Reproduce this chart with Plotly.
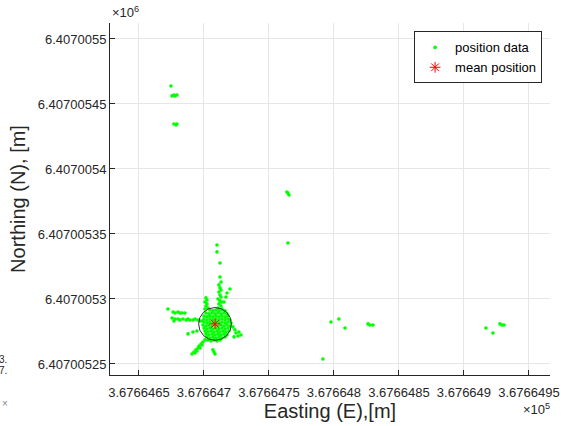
import plotly.graph_objects as go

# ---- data (metres) ----
east_out = [367664.6746, 367664.6754, 367664.6769, 367664.6777, 367664.6792, 367664.6769, 367664.6785, 367664.6792,
            367664.7638, 367664.7646, 367664.7654, 367664.7646,
            367664.7915, 367664.7977, 367664.8038, 367664.8085, 367664.8262, 367664.8277, 367664.8300,
            367664.9169, 367664.9223, 367664.9277, 367664.9292, 367664.9308]
north_out = [6407005.4638, 6407005.4562, 6407005.4569, 6407005.4562, 6407005.4569, 6407005.4346, 6407005.4338, 6407005.4346,
             6407005.3823, 6407005.3815, 6407005.3800, 6407005.3431,
             6407005.2538, 6407005.2823, 6407005.2846, 6407005.2777, 6407005.2808, 6407005.2800, 6407005.2800,
             6407005.2777, 6407005.2738, 6407005.2808, 6407005.2800, 6407005.2800]

east_column = [367664.7100, 367664.7100, 367664.7123, 367664.7123, 367664.7131, 367664.7115, 367664.7123, 367664.7131,
               367664.7115, 367664.7123, 367664.7131, 367664.7108, 367664.7123, 367664.7138, 367664.7115, 367664.7131,
               367664.7108, 367664.7138, 367664.7200, 367664.7177, 367664.7169, 367664.7154,
               367664.7015, 367664.7023, 367664.7008, 367664.7023, 367664.7015, 367664.7031, 367664.7008]
north_column = [6407005.3415, 6407005.3362, 6407005.3277, 6407005.3169, 6407005.3131, 6407005.3108, 6407005.3085, 6407005.3069,
                6407005.3054, 6407005.3031, 6407005.3015, 6407005.3000, 6407005.2985, 6407005.2977, 6407005.2962, 6407005.2946,
                6407005.2931, 6407005.2923, 6407005.3077, 6407005.3046, 6407005.3015, 6407005.2977,
                6407005.3008, 6407005.2992, 6407005.2977, 6407005.2962, 6407005.2946, 6407005.2931, 6407005.2923]

east_arms = [367664.6723, 367664.6762, 367664.6777, 367664.6800, 367664.6815, 367664.6831, 367664.6854,
             367664.6754, 367664.6769, 367664.6777, 367664.6800, 367664.6815, 367664.6838, 367664.6862, 367664.6877,
             367664.6892, 367664.6915, 367664.6931, 367664.6954, 367664.6969, 367664.6985,
             367664.6877, 367664.6915, 367664.6946,
             367664.7223, 367664.7238, 367664.7246, 367664.7262, 367664.7269, 367664.7285, 367664.7231,
             367664.7008, 367664.6992, 367664.6977, 367664.6962, 367664.6954, 367664.6938, 367664.6923, 367664.6908,
             367664.6931, 367664.6946, 367664.6969, 367664.6985,
             367664.7069, 367664.7077, 367664.7085]
north_arms = [6407005.2923, 6407005.2900, 6407005.2892, 6407005.2900, 6407005.2892, 6407005.2892, 6407005.2892,
              6407005.2854, 6407005.2831, 6407005.2846, 6407005.2846, 6407005.2838, 6407005.2846, 6407005.2838, 6407005.2846,
              6407005.2838, 6407005.2838, 6407005.2846, 6407005.2838, 6407005.2831, 6407005.2831,
              6407005.2731, 6407005.2746, 6407005.2754,
              6407005.2785, 6407005.2762, 6407005.2738, 6407005.2715, 6407005.2746, 6407005.2723, 6407005.2708,
              6407005.2685, 6407005.2669, 6407005.2654, 6407005.2638, 6407005.2623, 6407005.2608, 6407005.2592, 6407005.2577,
              6407005.2585, 6407005.2600, 6407005.2623, 6407005.2646,
              6407005.2608, 6407005.2592, 6407005.2577]

east_core = [367664.7046, 367664.7069, 367664.7092, 367664.7115, 367664.7138, 367664.7162,
             367664.7015, 367664.7038, 367664.7062, 367664.7085, 367664.7108, 367664.7131, 367664.7154, 367664.7177,
             367664.7000, 367664.7023, 367664.7046, 367664.7069, 367664.7092, 367664.7115, 367664.7138, 367664.7162, 367664.7185,
             367664.7000, 367664.7023, 367664.7046, 367664.7069, 367664.7092, 367664.7115, 367664.7138, 367664.7162, 367664.7185, 367664.7200,
             367664.7000, 367664.7023, 367664.7046, 367664.7069, 367664.7092, 367664.7115, 367664.7138, 367664.7162, 367664.7185, 367664.7208,
             367664.6992, 367664.7015, 367664.7038, 367664.7062, 367664.7085, 367664.7108, 367664.7131, 367664.7154, 367664.7177, 367664.7200,
             367664.7000, 367664.7023, 367664.7046, 367664.7069, 367664.7092, 367664.7115, 367664.7138, 367664.7162, 367664.7185,
             367664.7008, 367664.7031, 367664.7054, 367664.7077, 367664.7100, 367664.7123, 367664.7146, 367664.7169, 367664.7192,
             367664.7015, 367664.7038, 367664.7062, 367664.7085, 367664.7108, 367664.7131, 367664.7154, 367664.7177,
             367664.7023, 367664.7046, 367664.7069, 367664.7092, 367664.7115, 367664.7138, 367664.7162,
             367664.7031, 367664.7054, 367664.7077, 367664.7100, 367664.7123]
north_core = [6407005.2915, 6407005.2908, 6407005.2915, 6407005.2908, 6407005.2915, 6407005.2908,
              6407005.2892, 6407005.2885, 6407005.2892, 6407005.2885, 6407005.2892, 6407005.2885, 6407005.2892, 6407005.2885,
              6407005.2869, 6407005.2862, 6407005.2869, 6407005.2862, 6407005.2869, 6407005.2862, 6407005.2869, 6407005.2862, 6407005.2869,
              6407005.2846, 6407005.2838, 6407005.2846, 6407005.2838, 6407005.2846, 6407005.2838, 6407005.2846, 6407005.2838, 6407005.2846, 6407005.2838,
              6407005.2823, 6407005.2815, 6407005.2823, 6407005.2815, 6407005.2823, 6407005.2815, 6407005.2823, 6407005.2815, 6407005.2823, 6407005.2815,
              6407005.2800, 6407005.2792, 6407005.2800, 6407005.2792, 6407005.2800, 6407005.2792, 6407005.2800, 6407005.2792, 6407005.2800, 6407005.2792,
              6407005.2777, 6407005.2769, 6407005.2777, 6407005.2769, 6407005.2777, 6407005.2769, 6407005.2777, 6407005.2769, 6407005.2777,
              6407005.2754, 6407005.2746, 6407005.2754, 6407005.2746, 6407005.2754, 6407005.2746, 6407005.2754, 6407005.2746, 6407005.2754,
              6407005.2731, 6407005.2723, 6407005.2731, 6407005.2723, 6407005.2731, 6407005.2723, 6407005.2731, 6407005.2723,
              6407005.2708, 6407005.2700, 6407005.2708, 6407005.2700, 6407005.2708, 6407005.2700, 6407005.2708,
              6407005.2685, 6407005.2677, 6407005.2685, 6407005.2677, 6407005.2685]

mean_east = 367664.7085
mean_north = 6407005.2808
circle_radius = 0.0126

x_tickvals = [367664.65, 367664.70, 367664.75, 367664.80, 367664.85, 367664.90, 367664.95]
x_ticktext = ["3.6766465", "3.676647", "3.6766475", "3.676648", "3.6766485", "3.676649", "3.6766495"]
y_tickvals = [6407005.25, 6407005.30, 6407005.35, 6407005.40, 6407005.45, 6407005.50]
y_ticktext = ["6.40700525", "6.4070053", "6.40700535", "6.4070054", "6.40700545", "6.4070055"]
x_range = [367664.6277, 367664.9662]
y_range = [6407005.2415, 6407005.5123]

east_all = east_out + east_column + east_arms + east_core
north_all = north_out + north_column + north_arms + north_core

FONT = "Liberation Sans, Arial, Helvetica, sans-serif"
TXT = "#262626"

fig = go.Figure()
fig.add_trace(go.Scatter(
    x=east_all, y=north_all, mode="markers", name="position data",
    marker=dict(color="#00ff00", size=3.6, line=dict(width=0)),
))
fig.add_trace(go.Scatter(
    x=[mean_east], y=[mean_north], mode="markers", name="mean position",
    marker=dict(symbol="asterisk-open", color="#ff0000", size=9, line=dict(color="#ff0000", width=1)),
))
fig.add_shape(type="circle", xref="x", yref="y",
              x0=mean_east - circle_radius, x1=mean_east + circle_radius,
              y0=mean_north - circle_radius, y1=mean_north + circle_radius,
              line=dict(color="#333333", width=1))

axis_common = dict(
    showgrid=True, gridcolor="#e6e6e6", gridwidth=1,
    showline=True, linecolor=TXT, linewidth=1,
    ticks="inside", ticklen=5, tickcolor=TXT, tickwidth=1,
    tickfont=dict(family=FONT, size=13, color=TXT),
    zeroline=False, mirror=False, automargin=False,
)
fig.update_xaxes(range=x_range, tickmode="array", tickvals=x_tickvals, ticktext=x_ticktext,
                 ticklabelstandoff=5,
                 title=dict(text="Easting (E),[m]", font=dict(family=FONT, size=20, color=TXT), standoff=3),
                 **axis_common)
fig.update_yaxes(range=y_range, tickmode="array", tickvals=y_tickvals, ticktext=y_ticktext,
                 title=dict(text="Northing (N), [m]", font=dict(family=FONT, size=20, color=TXT), standoff=6),
                 **axis_common)

fig.update_layout(
    width=561, height=426,
    margin=dict(l=110, r=11, t=23, b=51, autoexpand=False),
    paper_bgcolor="white", plot_bgcolor="white",
    font=dict(family=FONT, color=TXT),
    legend=dict(x=0.982, y=0.976, xanchor="right", yanchor="top",
                bgcolor="white", bordercolor=TXT, borderwidth=1,
                font=dict(family=FONT, size=13, color="#000000"),
                itemsizing="trace", tracegroupgap=0),
    annotations=[
        dict(text="×10<sup>6</sup>", xref="paper", yref="paper", x=0, y=1, xanchor="left", yanchor="bottom",
             yshift=1, showarrow=False, font=dict(family=FONT, size=13, color=TXT)),
        dict(text="×10<sup>5</sup>", xref="paper", yref="paper", x=1, y=0, xanchor="right", yanchor="top",
             xshift=2, yshift=-24, showarrow=False, font=dict(family=FONT, size=13, color=TXT)),
        dict(text="3.", xref="paper", yref="paper", x=-0.229, y=0.043, xanchor="right", yanchor="middle",
             showarrow=False, font=dict(family=FONT, size=10, color=TXT)),
        dict(text="7.", xref="paper", yref="paper", x=-0.229, y=0.013, xanchor="right", yanchor="middle",
             showarrow=False, font=dict(family=FONT, size=10, color=TXT)),
        dict(text="×", xref="paper", yref="paper", x=-0.228, y=-0.08, xanchor="right", yanchor="middle",
             showarrow=False, font=dict(family=FONT, size=10, color="#888888")),
    ],
)

fig.write_html("out.html", config={"displayModeBar": False},
               post_script="document.body.style.margin='0';document.body.style.padding='0';")
